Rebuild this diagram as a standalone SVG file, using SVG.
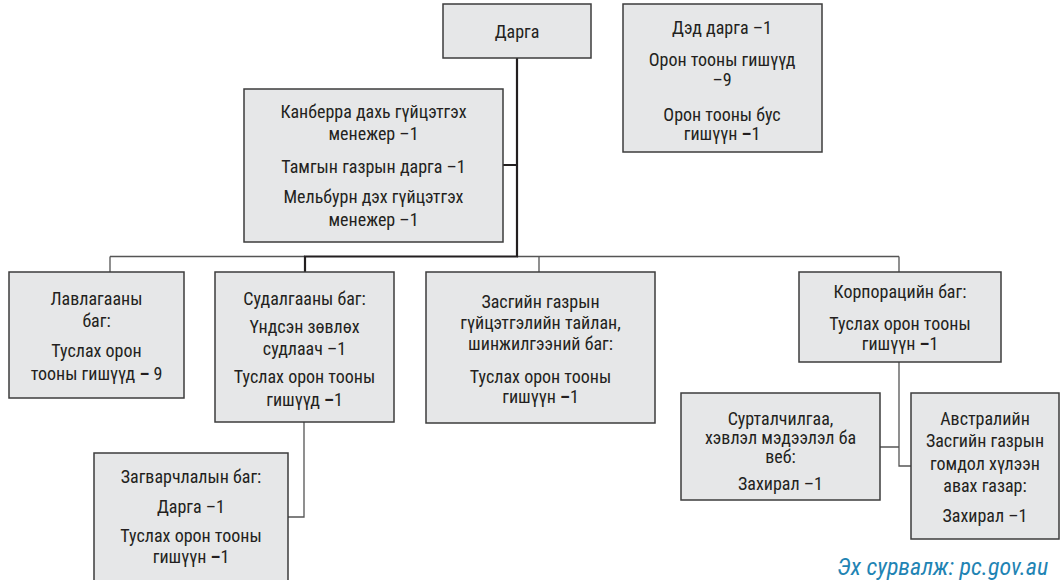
<svg xmlns="http://www.w3.org/2000/svg" width="1060" height="580" viewBox="0 0 1060 580">
<style>
.box{fill:#e6e7e8;stroke:#3d3d3d;stroke-width:1.5}
text{font-family:"Liberation Sans Narrow","Roboto Condensed","DejaVu Sans Condensed",sans-serif;font-size:18px;fill:#231f20;text-anchor:middle}
.thin{fill:none;stroke:#555;stroke-width:1.3}
.thick{fill:none;stroke:#231f20;stroke-width:2.2}
.src{font-style:italic;fill:#1f84b4;font-size:24px;text-anchor:start}
</style>
<rect width="1060" height="580" fill="#ffffff"/>
<g id="connectors">
<path class="thin" d="M110 256.5H305M517 256.5H899M110 256.5V272M539 256.5V272M899 256.5V272"/>
<path class="thick" d="M517 58V256.5H305V272M503 165H517"/>
<path class="thin" d="M304 422V517H288"/>
<path class="thin" d="M899 362V466H911M880 447H899"/>
</g>
<g id="darga">
<rect class="box" x="443" y="4" width="148" height="54"/>
<text x="517" y="38">Дарга</text>
</g>
<g id="ded-darga">
<rect class="box" x="623" y="4" width="199" height="148"/>
<text x="722" y="34">Дэд дарга –1</text>
<text x="722" y="66">Орон тооны гишүүд</text>
<text x="722" y="86">–9</text>
<text x="722" y="121">Орон тооны бус</text>
<text x="722" y="140">гишүүн <tspan font-weight="bold">–</tspan>1</text>
</g>
<g id="kanberra">
<rect class="box" x="244" y="89" width="259" height="153"/>
<text x="373.5" y="118">Канберра дахь гүйцэтгэх</text>
<text x="373.5" y="140">менежер –1</text>
<text x="373.5" y="173">Тамгын газрын дарга –1</text>
<text x="373.5" y="203">Мельбурн дэх гүйцэтгэх</text>
<text x="373.5" y="226">менежер –1</text>
</g>
<g id="lavlagaa">
<rect class="box" x="9" y="272" width="175" height="126"/>
<text x="96.5" y="305">Лавлагааны</text>
<text x="96.5" y="327">баг:</text>
<text x="96.5" y="357">Туслах орон</text>
<text x="96.5" y="380">тооны гишүүд <tspan font-weight="bold">–</tspan> 9</text>
</g>
<g id="sudalgaa">
<rect class="box" x="215" y="272" width="179" height="150"/>
<text x="304.5" y="305">Судалгааны баг:</text>
<text x="304.5" y="333">Үндсэн зөвлөх</text>
<text x="304.5" y="355">судлаач –1</text>
<text x="304.5" y="383">Туслах орон тооны</text>
<text x="304.5" y="406">гишүүд <tspan font-weight="bold">–</tspan>1</text>
</g>
<g id="zasgiin">
<rect class="box" x="426" y="272" width="229" height="151"/>
<text x="540.5" y="308">Засгийн газрын</text>
<text x="540.5" y="329">гүйцэтгэлийн тайлан,</text>
<text x="540.5" y="350">шинжилгээний баг:</text>
<text x="540.5" y="383">Туслах орон тооны</text>
<text x="540.5" y="403">гишүүн <tspan font-weight="bold">–</tspan>1</text>
</g>
<g id="korporatsi">
<rect class="box" x="799" y="272" width="202" height="90"/>
<text x="900" y="298">Корпорацийн баг:</text>
<text x="900" y="330">Туслах орон тооны</text>
<text x="900" y="350">гишүүн <tspan font-weight="bold">–</tspan>1</text>
</g>
<g id="zagvarchlal">
<rect class="box" x="94" y="453" width="194" height="140"/>
<text x="191" y="483">Загварчлалын баг:</text>
<text x="191" y="513">Дарга –1</text>
<text x="191" y="542">Туслах орон тооны</text>
<text x="191" y="563">гишүүн <tspan font-weight="bold">–</tspan>1</text>
</g>
<g id="surtalchilgaa">
<rect class="box" x="681" y="393" width="199" height="107"/>
<text x="780.5" y="425">Сурталчилгаа,</text>
<text x="780.5" y="444">хэвлэл мэдээлэл ба</text>
<text x="780.5" y="463">веб:</text>
<text x="780.5" y="490">Захирал –1</text>
</g>
<g id="avstrali">
<rect class="box" x="911" y="393" width="148" height="146"/>
<text x="985" y="425">Австралийн</text>
<text x="985" y="447">Засгийн газрын</text>
<text x="985" y="470">гомдол хүлээн</text>
<text x="985" y="492">авах газар:</text>
<text x="985" y="522">Захирал –1</text>
</g>
<text class="src" x="837" y="575">Эх сурвалж: pc.gov.au</text>
</svg>
